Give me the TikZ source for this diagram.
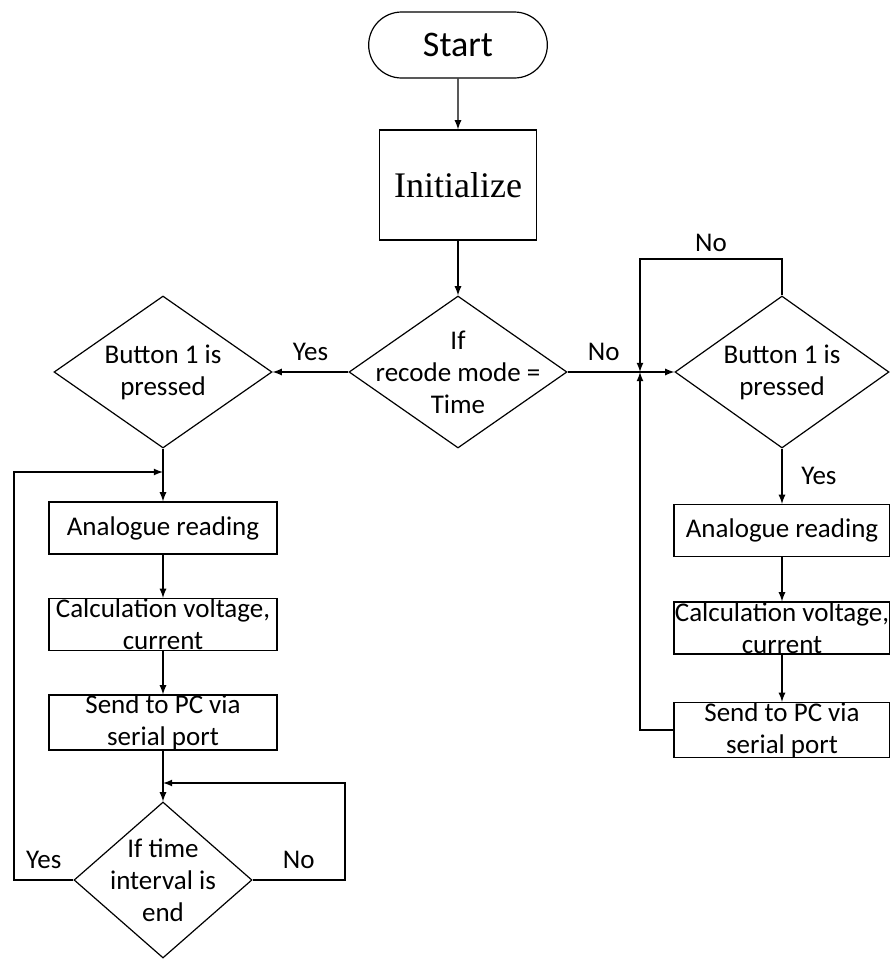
\documentclass[tikz,border=0pt]{standalone}
\usepackage{fontspec}
\setmainfont{Carlito}
\newfontfamily\initfont{Liberation Serif}
\usetikzlibrary{shapes.geometric,shapes.misc}

\begin{document}
\begin{tikzpicture}[x=0.5pt,y=-0.5pt,>=latex,line width=0.6pt,
    every node/.style={font=\fontsize{13.5}{16}\selectfont},
    terminal/.style={draw,rounded rectangle,minimum width=96pt,minimum height=33pt,font=\fontsize{18}{20}\selectfont},
    process/.style={draw,rectangle,align=center,inner sep=0pt,minimum width=#1,minimum height=26pt},
    process/.default=114pt,
    decision/.style={draw,diamond,inner sep=0pt,minimum width=#1,minimum height=76pt},
    decision/.default=109pt,
    dtext/.style={align=center}]
    \useasboundingbox (0,0) rectangle (890,960);
    % main line
    \node[terminal] (start) at (458,45) {Start};
    \node[draw,rectangle,minimum width=78.5pt,minimum height=55pt,font=\initfont\fontsize{18}{20}\selectfont] (init) at (458,185) {Initialize};
    \node[decision,label={[dtext]center:{If\\recode mode =\\Time}}] (mode) at (458,372) {};
    % left branch
    \node[decision,label={[dtext]center:{Button 1 is\\pressed}}] (btnL) at (163,372) {};
    \node[process] (readL) at (163,528) {Analogue reading};
    \node[process] (calcL) at (163,624.5) {Calculation voltage,\\current};
    \node[process] (sendL) at (163,722.5) {Send to PC via\\serial port};
    \node[decision=89pt,minimum height=78pt,label={[dtext]center:{If time\\interval is\\end}}] (timeL) at (163,880) {};
    % right branch
    \node[decision=107pt,label={[dtext]center:{Button 1 is\\pressed}}] (btnR) at (782,372) {};
    \node[process=108pt] (readR) at (782,530.5) {Analogue reading};
    \node[process=108pt] (calcR) at (782,628) {Calculation voltage,\\current};
    \node[process=108pt] (sendR) at (782,730) {Send to PC via\\serial port};
    % joints
    \coordinate (jR) at (640,372);
    \coordinate (topR) at (640,259);
    \coordinate (jL) at (163,472);
    \coordinate (cornerL) at (14,472);
    \coordinate (jT) at (163,783);
    \coordinate (cornerT) at (345,783);

    \draw (start) edge [->] (init);
    \draw (init) edge [->] (mode);
    \draw (mode.west) edge [->] node[above,yshift=2pt]{Yes} (btnL.east);
    \draw (mode.east) -- node[above,yshift=2pt]{No} (jR);
    \draw (jR) edge [->] (btnR.west);
    \draw[->] (btnR.north) |- node[pos=0.75,above]{No} (topR) -- (jR);
    \draw (btnR.south) edge [->] node[right,xshift=6pt]{Yes} (readR.north);
    \draw (readR) edge [->] (calcR);
    \draw (calcR) edge [->] (sendR);
    \draw[->] (sendR.west) -| (jR);
    \draw (btnL.south) edge [->] (readL.north);
    \draw (readL) edge [->] (calcL);
    \draw (calcL) edge [->] (sendL);
    \draw (sendL) edge [->] (timeL.north);
    \draw[->] (timeL.west) -| node[pos=0.25,above,yshift=2pt]{Yes} (cornerL) -- (jL);
    \draw[->] (timeL.east) -| node[pos=0.25,above,yshift=2pt]{No} (cornerT) -- (jT);
\end{tikzpicture}
\end{document}
